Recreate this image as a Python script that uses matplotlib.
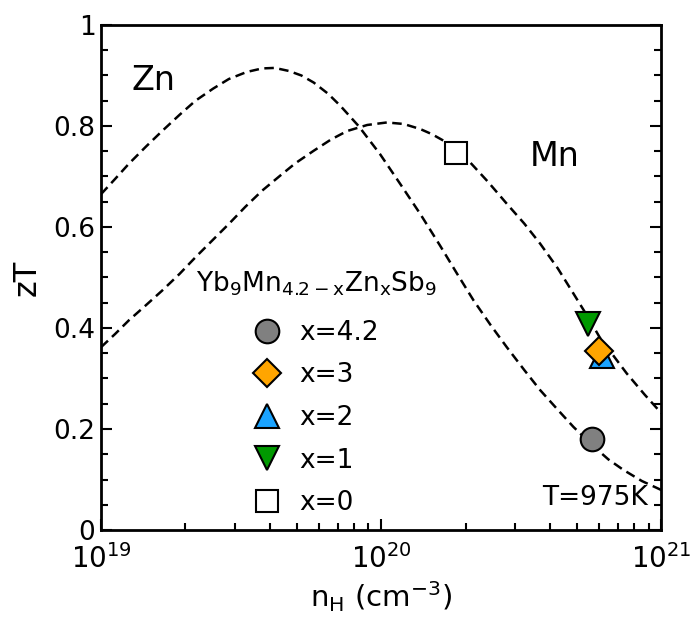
import numpy as np
import matplotlib
matplotlib.use('Agg')
import matplotlib.pyplot as plt
from matplotlib.ticker import LogLocator, MultipleLocator, NullFormatter

# SPB model curves (log10 of n_H, zT)
zn_logn = [19.0, 19.05, 19.099, 19.16, 19.218, 19.28, 19.337, 19.40, 19.456, 19.52,
           19.575, 19.62, 19.67, 19.715, 19.759, 19.81, 19.854, 19.919, 19.996, 20.068,
           20.139, 20.21, 20.27, 20.329, 20.39, 20.448, 20.51, 20.567, 20.63, 20.686,
           20.753, 20.81, 20.864, 20.93, 21.0]
zn_zt = [0.665, 0.695, 0.725, 0.759, 0.790, 0.822, 0.850, 0.874, 0.893, 0.907,
         0.914, 0.915, 0.909, 0.900, 0.886, 0.864, 0.840, 0.800, 0.744, 0.685,
         0.626, 0.563, 0.508, 0.455, 0.406, 0.362, 0.317, 0.277, 0.238, 0.204,
         0.168, 0.140, 0.119, 0.097, 0.079]

mn_logn = [19.0, 19.05, 19.099, 19.16, 19.218, 19.28, 19.337, 19.40, 19.456, 19.515,
           19.575, 19.64, 19.693, 19.759, 19.82, 19.878, 19.95, 20.02, 20.08, 20.139,
           20.18, 20.222, 20.266, 20.317, 20.38, 20.448, 20.51, 20.567, 20.63, 20.686,
           20.735, 20.781, 20.83, 20.876, 20.94, 21.0]
mn_zt = [0.362, 0.388, 0.415, 0.445, 0.474, 0.507, 0.540, 0.575, 0.606, 0.640,
         0.672, 0.702, 0.726, 0.751, 0.773, 0.790, 0.802, 0.807, 0.804, 0.794,
         0.784, 0.771, 0.751, 0.728, 0.690, 0.646, 0.607, 0.567, 0.518, 0.468,
         0.424, 0.380, 0.344, 0.310, 0.268, 0.231]

# measured samples
labels = ['x=4.2', 'x=3', 'x=2', 'x=1', 'x=0']
n_h = [5.66e20, 6.0e20, 6.15e20, 5.45e20, 1.845e20]
zt = [0.180, 0.355, 0.345, 0.408, 0.746]
markers = ['o', 'D', '^', 'v', 's']
colors = ['#808080', '#FFA500', '#1AA3FF', '#009900', 'white']
sizes = [17, 14, 17, 17, 16]
zorders = [5, 6, 5, 5, 5]

plt.rcParams['font.family'] = ['DejaVu Sans']
plt.rcParams['mathtext.default'] = 'regular'

fig = plt.figure(figsize=(6.91, 6.17), dpi=100)
ax = fig.add_axes([0.1462, 0.141, 0.8111, 0.8185])

for xs, ys in [(zn_logn, zn_zt), (mn_logn, mn_zt)]:
    ax.plot(10 ** np.array(xs), ys, color='black', lw=1.8, dashes=(3.8, 2.2),
            dash_joinstyle='round', zorder=2)

for i in range(len(labels)):
    ax.plot(n_h[i], zt[i], linestyle='none', marker=markers[i], markersize=sizes[i],
            markerfacecolor=colors[i], markeredgecolor='black', markeredgewidth=1.5,
            label=labels[i], zorder=zorders[i])

ax.set_xscale('log')
ax.set_xlim(1e19, 1e21)
ax.set_ylim(0, 1)
ax.xaxis.set_major_locator(LogLocator(base=10, numticks=5))
ax.xaxis.set_minor_locator(LogLocator(base=10, subs=np.arange(2, 10), numticks=20))
ax.xaxis.set_minor_formatter(NullFormatter())
ax.yaxis.set_minor_locator(MultipleLocator(0.05))
ax.set_yticks([0, 0.2, 0.4, 0.6, 0.8, 1.0])
ax.set_yticklabels(['0', '0.2', '0.4', '0.6', '0.8', '1'])

ax.tick_params(which='both', direction='in', top=False, right=True, width=1.5)
ax.tick_params(which='major', length=8)
ax.tick_params(which='minor', length=5)
ax.tick_params(axis='y', labelsize=19, pad=4)
ax.tick_params(axis='x', labelsize=20, pad=10)
for s in ax.spines.values():
    s.set_linewidth(2)

ax.set_xlabel(r'n$_\mathregular{H}$ (cm$^\mathregular{-3}$)', fontsize=21, labelpad=4)
ax.set_ylabel('zT', fontsize=23, labelpad=8)

ax.text(1.28e19, 0.89, 'Zn', fontsize=24, va='center', ha='left')
ax.text(3.4e20, 0.74, 'Mn', fontsize=24, va='center', ha='left')
ax.text(0.975, 0.063, 'T=975K', fontsize=19, va='center', ha='right', transform=ax.transAxes)

leg = ax.legend(loc='center', bbox_to_anchor=(0.384, 0.272), frameon=False, fontsize=19,
                title=r'Yb$_\mathregular{9}$Mn$_\mathregular{4.2-x}$Zn$_\mathregular{x}$Sb$_\mathregular{9}$',
                title_fontsize=19, handlelength=1.0, handletextpad=0.75, labelspacing=0.63,
                borderpad=0.2)
leg._legend_box.sep = 16

fig.savefig('out.png', dpi=100)
